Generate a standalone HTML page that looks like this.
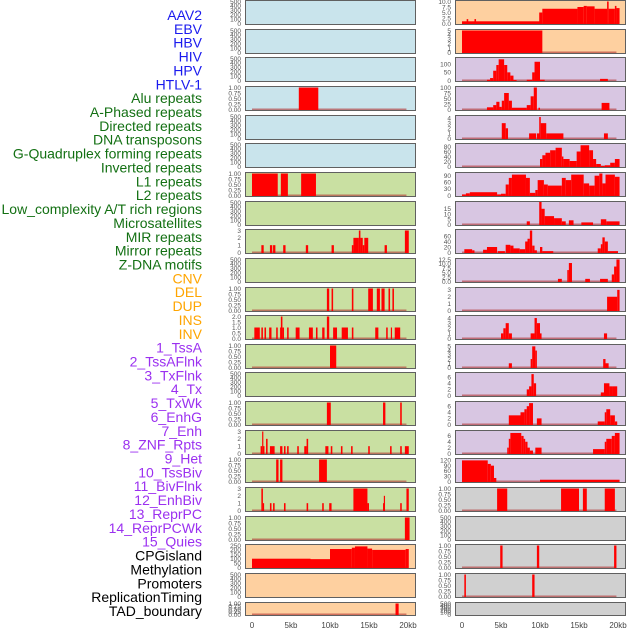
<!DOCTYPE html>
<html><head><meta charset="utf-8">
<style>
html,body{margin:0;padding:0;background:#fff;}
svg{display:block;font-family:"Liberation Sans",sans-serif;}
</style></head>
<body>
<svg id="chart" width="630" height="630" viewBox="0 0 630 630"></svg>
<script>
// ---- data ----
const trackLabels = ["AAV2","EBV","HBV","HIV","HPV","HTLV-1","Alu repeats","A-Phased repeats","Directed repeats","DNA transposons","G-Quadruplex forming repeats","Inverted repeats","L1 repeats","L2 repeats","Low_complexity A/T rich regions","Microsatellites","MIR repeats","Mirror repeats","Z-DNA motifs","CNV","DEL","DUP","INS","INV","1_TssA","2_TssAFlnk","3_TxFlnk","4_Tx","5_TxWk","6_EnhG","7_Enh","8_ZNF_Rpts","9_Het","10_TssBiv","11_BivFlnk","12_EnhBiv","13_ReprPC","14_ReprPCWk","15_Quies","CPGisland","Methylation","Promoters","ReplicationTiming","TAD_boundary"];
const labelGroups = [0,0,0,0,0,0,1,1,1,1,1,1,1,1,1,1,1,1,1,2,2,2,2,2,3,3,3,3,3,3,3,3,3,3,3,3,3,3,3,4,4,4,4,4];
const groupColors = ["#1a1aee","#137013","#ffa500","#9b30f0","#000000"];
const xTicks = [0,5,10,15,20];
const xTickLabels = ["0","5kb","10kb","15kb","20kb"];

const leftBg = ["b","b","b","b","b","b","g","g","g","g","g","g","g","g","g","g","g","g","g","o","o","o"];
const rightBg = ["o","o","p","p","p","p","p","p","p","p","p","p","p","p","p","p","p","x","x","x","x","x"];
const leftMax = [500,500,500,1,500,500,1,500,3,500,1,2,1,500,1,3,1,3,1,250,500,1];
const rightMax = [10,5,135,100,4.3,88,100,21,80,12.5,3.2,4.3,5.2,7.2,7.2,7.5,125,1,500,1,1,500];
const leftTicks = [
 [0,100,200,300,400,500],[0,100,200,300,400,500],[0,100,200,300,400,500],[0,0.25,0.5,0.75,1],
 [0,100,200,300,400,500],[0,100,200,300,400,500],[0,0.25,0.5,0.75,1],[0,100,200,300,400,500],
 [0,1,2,3],[0,100,200,300,400,500],[0,0.25,0.5,0.75,1],[0,0.5,1,1.5,2],[0,0.25,0.5,0.75,1],
 [0,100,200,300,400,500],[0,0.25,0.5,0.75,1],[0,1,2,3],[0,0.25,0.5,0.75,1],[0,1,2,3],
 [0,0.25,0.5,0.75,1],[0,50,100,150,200,250],[0,100,200,300,400,500],[0,0.25,0.5,0.75,1]];
const rightTicks = [
 [0,2.5,5,7.5,10],[0,1,2,3,4,5],[0,50,100],[0,25,50,75,100],[0,1,2,3,4],[0,20,40,60,80],
 [0,30,60,90],[0,5,10,15],[0,20,40,60],[0,2.5,5,7.5,10,12.5],[0,1,2,3],[0,1,2,3,4],
 [0,1,2,3,4,5],[0,2,4,6],[0,2,4,6],[0,2,4,6],[0,30,60,90,120],[0,0.25,0.5,0.75,1],
 [0,100,200,300,400,500],[0,0.25,0.5,0.75,1],[0,0.25,0.5,0.75,1],[0,100,200,300,400,500]];
const tickDecimals = {1:2,2:1,10:1,12.5:1};

// segments: [startKb, endKb, value]
const leftSeries = [
 [],[],[],
 [[6.0,8.5,1]],
 [],[],
 [[0,3.3,1],[3.7,4.6,1],[6.3,8.2,1]],
 [],
 [[1.2,1.5,1],[2.3,2.6,1],[2.7,3.0,1],[4.0,4.3,1],[6.9,7.2,1],[10.2,10.5,1],[12.8,13.0,1],[13.0,13.7,2],[13.7,13.9,3],[13.9,14.2,2],[14.2,14.4,1],[14.4,14.9,2],[17.0,17.3,1],[19.6,20.1,3]],
 [],
 [[9.6,9.9,1],[10.2,10.4,1],[12.8,13.0,1],[14.9,15.5,1],[16.0,16.4,1],[16.6,17.0,1],[17.5,17.7,1],[18.0,18.2,1]],
 [[0.3,1.0,1],[1.2,1.4,1],[1.6,1.8,1],[2.2,2.5,1],[3.1,3.3,1],[3.6,3.7,1],[3.7,3.9,2],[3.9,4.1,1],[4.5,4.7,1],[5.6,6.1,1],[7.3,7.8,1],[8.2,8.4,1],[9.0,9.3,1],[9.6,9.9,2],[10.4,10.9,1],[11.5,12.3,1],[12.8,13.0,1],[15.8,16.2,1],[17.2,17.4,1],[17.8,17.9,1],[18.3,19.0,1]],
 [[10.0,10.8,1]],
 [],
 [[9.6,10.1,1],[16.8,17.1,1],[19.0,19.2,1]],
 [[1.1,1.3,1],[1.3,1.4,3],[1.4,1.6,1],[1.8,2.0,2],[2.3,2.9,1],[3.6,3.9,1],[4.1,4.3,1],[4.5,4.7,1],[5.8,6.0,1],[6.7,7.0,1],[7.0,7.2,2],[9.4,9.8,1],[10.1,10.3,1],[11.4,11.6,1],[12.7,12.9,1],[14.9,15.1,1],[17.7,17.9,1],[19.0,19.2,1],[19.6,20.1,1]],
 [[3.1,3.4,1],[3.6,3.9,1],[8.6,9.6,1]],
 [[1.2,1.4,3],[1.4,1.5,1],[2.3,2.5,1],[2.7,2.9,1],[4.1,4.3,1],[7.0,7.2,1],[9.0,9.2,1],[9.9,10.2,1],[13.0,14.8,3],[14.8,15.0,1],[16.8,17.0,1],[16.9,17.0,2],[19.0,19.2,1],[19.8,20.1,3]],
 [[19.6,20.2,1]],
 [[0,7.5,100],[7.5,10.0,95],[10.0,12.8,210],[12.8,13.2,225],[13.2,14.8,240],[14.8,15.4,215],[15.4,19.7,200],[19.7,20.1,210]],
 [],
 [[18.4,18.8,1]]
];
const rightSeries = [
 [[0,10.0,1],[0.6,0.8,2],[1.6,1.8,2],[9.9,10.3,5],[10.3,14.8,6.7],[14.8,15.6,7.5],[15.6,16.0,8],[16.0,17.0,7.8],[17.0,18.6,6.7],[18.6,18.8,10],[18.8,19.6,6.7],[19.6,19.8,8],[19.8,20.2,7]],
 [[0,10.3,5]],
 [[3.2,3.6,5],[3.6,4.0,15],[4.0,4.4,60],[4.4,4.7,95],[4.7,5.4,130],[5.4,5.8,95],[5.8,6.2,50],[6.2,6.6,30],[6.6,7.0,3],[8.3,9.0,5],[9.0,9.3,50],[9.3,10.0,115],[10.0,10.6,5],[17.7,18.7,10]],
 [[3.2,4.0,10],[4.0,4.4,20],[4.4,4.8,35],[4.8,5.1,12],[5.1,5.4,40],[5.4,6.0,75],[6.0,6.4,40],[6.4,8.3,8],[8.3,8.8,20],[8.8,9.2,60],[9.2,9.6,100],[9.8,10.0,8],[17.9,18.9,30]],
 [[5.1,5.6,3],[5.6,5.9,2],[8.6,9.5,1],[9.6,10.0,1],[9.9,10.1,4.2],[10.1,10.8,3],[10.8,13.0,1],[18.2,18.7,1]],
 [[10.0,10.3,30],[10.3,10.7,45],[10.7,11.3,55],[11.3,12.0,65],[12.0,12.8,75],[12.8,13.0,40],[13.0,13.8,30],[13.8,14.7,22],[14.7,15.2,60],[15.2,16.3,85],[16.3,16.8,65],[16.8,17.2,30],[17.2,17.8,10],[17.8,18.3,2],[18.3,19.0,5],[19.0,19.6,15],[19.6,20.2,30]],
 [[0,0.5,5],[0.5,1.0,10],[1.0,4.5,15],[4.5,5.0,5],[5.0,5.6,8],[5.6,6.0,50],[6.0,6.4,80],[6.4,8.2,95],[8.2,8.7,80],[8.7,9.4,12],[9.4,9.7,25],[9.7,10.5,70],[10.5,11.0,50],[11.0,12.8,45],[12.8,13.3,80],[13.3,14.0,70],[14.0,15.6,95],[15.6,16.3,55],[16.3,17.0,45],[17.0,17.6,90],[17.6,18.0,100],[18.0,18.4,55],[18.4,19.6,95],[19.6,20.2,85]],
 [[8.3,8.7,3],[9.9,10.2,22],[10.2,10.6,15],[10.6,11.8,8],[11.8,12.8,6],[12.8,13.3,3],[13.7,14.3,4],[15.3,16.8,2],[17.8,18.5,5],[18.5,20.2,3]],
 [[0.3,1.3,12],[1.3,1.6,8],[2.7,3.2,10],[3.2,4.5,20],[4.6,5.5,5],[5.6,6.2,28],[6.2,6.6,25],[6.6,7.4,15],[7.4,8.1,12],[8.1,8.4,40],[8.4,8.7,50],[8.7,9.0,80],[9.0,9.3,25],[9.3,9.6,8],[10.0,10.3,20],[10.3,11.7,5],[17.4,17.8,15],[17.8,18.0,30],[18.0,18.3,55],[18.3,18.7,40],[18.7,20.0,5]],
 [[12.3,12.8,1.5],[13.5,13.7,6.5],[13.7,14.1,10.5],[15.8,16.4,1.5],[17.7,18.7,1.5],[19.2,19.5,4],[19.5,19.8,8.5],[19.8,20.2,12.5]],
 [[18.6,19.9,2],[19.9,20.2,3]],
 [[5.0,5.3,1],[5.3,5.6,2],[5.6,6.0,3],[6.0,6.4,1],[8.8,9.3,1],[9.3,9.6,4],[9.6,10.0,3],[10.0,10.2,1],[18.2,18.6,1]],
 [[6.0,6.4,1],[8.8,9.0,2],[9.0,9.4,5],[9.4,9.6,4],[18.1,18.4,2],[18.4,18.8,1]],
 [[8.3,8.6,2],[8.6,8.9,3],[8.9,9.2,7],[9.2,9.5,4],[17.8,18.2,1],[18.2,18.9,4],[18.9,19.3,3],[19.3,19.9,3]],
 [[6.0,7.5,3],[7.5,8.0,4],[8.0,8.3,5],[8.3,8.6,6],[8.6,9.1,7],[9.6,10.2,2],[17.4,18.3,1],[18.3,18.5,4],[18.5,19.0,5],[19.0,19.6,3],[19.6,19.9,1]],
 [[5.8,6.0,2],[6.0,6.2,5],[6.2,7.6,7],[7.6,7.9,6],[7.9,8.1,5],[8.1,8.4,4],[8.4,8.7,2],[8.7,9.1,1],[9.4,10.2,2],[16.8,18.3,1.5],[18.3,18.5,4],[18.5,19.2,5],[19.2,19.6,6],[19.6,20.2,7]],
 [[0,3.3,120],[3.3,3.7,100],[3.7,4.1,90],[4.1,4.4,20],[10.0,20.2,10]],
 [[4.5,5.8,1],[12.7,15.0,1],[15.5,16.0,1],[18.3,19.6,1]],
 [],
 [[4.9,5.2,1],[9.6,9.9,1],[19.5,19.8,1]],
 [[0.3,0.5,1],[9.0,9.3,1]],
 []
];
const bgColors = {b:"#c9e4ec",g:"#c9e0a2",o:"#fed0a0",p:"#d8c6e2",x:"#d0d0d0"};

// ---- layout ----
const NS = "http://www.w3.org/2000/svg";
const svg = document.getElementById("chart");
const cols = [{x0:245,x1:416,zero:252,bg:leftBg,max:leftMax,ticks:leftTicks,series:leftSeries,name:"left"},
              {x0:455,x1:626,zero:462,bg:rightBg,max:rightMax,ticks:rightTicks,series:rightSeries,name:"right"}];
const KB = 7.8;
function mk(tag, attrs){const e=document.createElementNS(NS,tag);for(const k in attrs)e.setAttribute(k,attrs[k]);return e;}
function xScale(col,kb){return col.zero+kb*KB;}
function rowTop(i){return Math.round(i*28.65);}
function rowH(i){return i===21?14:25;}

// labels
trackLabels.forEach((t,i)=>{
  const e=mk("text",{x:202,y:15+i*13.86+5,"text-anchor":"end","font-size":"14",fill:groupColors[labelGroups[i]]});
  
  
  e.textContent=t;svg.appendChild(e);
});

cols.forEach(col=>{
  for(let i=0;i<22;i++){
    const top=rowTop(i),h=rowH(i),bottom=top+h;
    const g=mk("g",{});
    
    
    svg.appendChild(g);
    const bg=mk("rect",{x:col.x0,y:top,width:col.x1-col.x0,height:h,fill:bgColors[col.bg[i]]});
    
    
    g.appendChild(bg);
    const ymax=col.max[i];
    const yS=v=>bottom-1.5-(v/ymax)*(h-3);
    const segs=col.series[i];
    if(segs.length){
      const base=mk("rect",{x:xScale(col,0),y:yS(0)-1,width:19.8*KB,height:2,fill:"#b03030",opacity:0.6});
      
      
      g.appendChild(base);
    }
    segs.forEach(s=>{
      const x=xScale(col,s[0]),w=Math.max(1.2,(s[1]-s[0])*KB),y=yS(s[2]);
      const r=mk("rect",{x:x,y:y,width:w,height:yS(0)-y+0.5,fill:"#ff0000"});
      
      
      g.appendChild(r);
    });
    const fr=mk("rect",{x:col.x0+0.5,y:top+0.5,width:col.x1-col.x0-1,height:h-1,fill:"none",stroke:"#606060","stroke-width":1});
    
    
    g.appendChild(fr);
    const ticks=col.ticks[i];
    const topT=ticks[ticks.length-1];
    const dec=tickDecimals[topT]!==undefined?tickDecimals[topT]:0;
    ticks.forEach(t=>{
      const tl=mk("text",{x:col.x0-4,y:yS(t)+2.3,"text-anchor":"end","font-size":"6.5",fill:"#555"});
      
      
      tl.textContent=t.toFixed(dec);g.appendChild(tl);
    });
  }
  xTicks.forEach((t,k)=>{
    const e=mk("text",{x:xScale(col,t),y:628,"text-anchor":"middle","font-size":"8",fill:"#444"});
    
    
    e.textContent=xTickLabels[k];svg.appendChild(e);
  });
});
</script>
</body></html>
